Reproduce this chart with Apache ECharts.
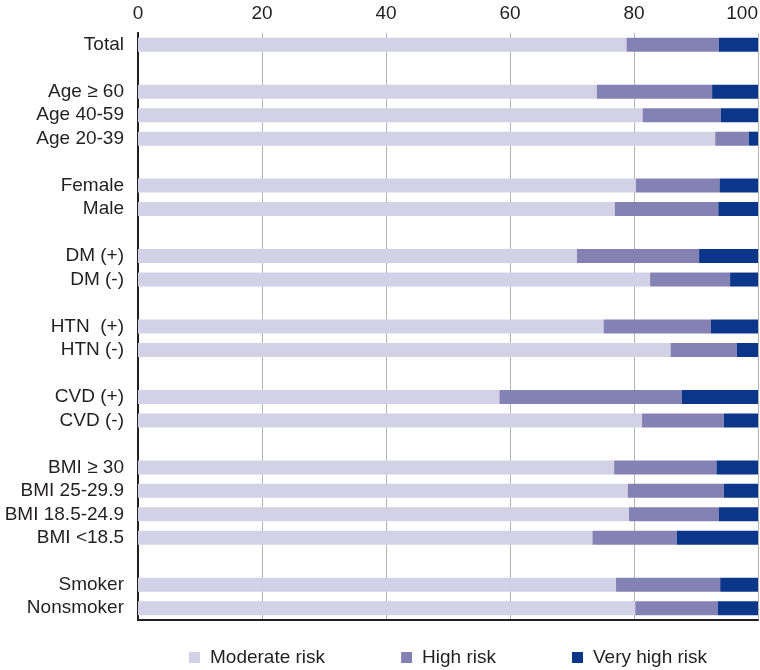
<!DOCTYPE html>
<html>
<head>
<meta charset="utf-8" />
<script src="https://cdn.jsdelivr.net/npm/echarts@6/dist/echarts.min.js"></script>
<style>
  html, body { margin: 0; padding: 0; background: #fff; }
  #main { width: 760px; height: 670px; }
</style>
</head>
<body>
<div id="main"></div>
<script>
// blank entries keep the gaps between groups
const categories = [
  "Total", "",
  "Age ≥ 60", "Age 40-59", "Age 20-39", " ",
  "Female", "Male", "  ",
  "DM (+)", "DM (-)", "   ",
  "HTN  (+)", "HTN (-)", "    ",
  "CVD (+)", "CVD (-)", "     ",
  "BMI ≥ 30", "BMI 25-29.9", "BMI 18.5-24.9", "BMI <18.5", "      ",
  "Smoker", "Nonsmoker"
];
const moderateRisk = [
  78.8, null,
  74.0, 81.4, 93.1, null,
  80.3, 76.9, null,
  70.8, 82.6, null,
  75.1, 85.9, null,
  58.3, 81.3, null,
  76.8, 79.0, 79.2, 73.3, null,
  77.1, 80.2
];
const highRisk = [
  14.9, null,
  18.6, 12.6, 5.4, null,
  13.5, 16.7, null,
  19.7, 12.9, null,
  17.3, 10.7, null,
  29.4, 13.2, null,
  16.5, 15.5, 14.5, 13.6, null,
  16.8, 13.3
];
const veryHighRisk = [
  6.3, null,
  7.4, 6.0, 1.5, null,
  6.2, 6.4, null,
  9.5, 4.5, null,
  7.6, 3.4, null,
  12.3, 5.5, null,
  6.7, 5.5, 6.3, 13.1, null,
  6.1, 6.5
];
const xTicks = [0, 20, 40, 60, 80, 100];

const font = "Liberation Sans";
const fontSize = 19;
const textColor = "#231f20";

const chart = echarts.init(document.getElementById("main"));

const barStyle = (name, data, color) => ({
  name: name,
  type: "bar",
  stack: "risk",
  barWidth: 14,
  xAxisIndex: 0,
  yAxisIndex: 0,
  data: data,
  itemStyle: { color: color },
  emphasis: { disabled: true },
});

chart.setOption({
  animation: false,
  grid: { left: 138, right: 2, top: 33, bottom: 50, outerBoundsMode: "none" },
  legend: {
    left: 184,
    top: 643,
    itemWidth: 11,
    itemHeight: 11,
    itemGap: 76,
    icon: "rect",
    textStyle: {
      fontFamily: font,
      fontSize: fontSize,
      color: textColor,
      padding: [0, 0, 0, 5],
    },
    data: ["Moderate risk", "High risk", "Very high risk"],
  },
  xAxis: [
    {
      type: "value",
      position: "top",
      min: xTicks[0],
      max: xTicks[xTicks.length - 1],
      interval: 20,
      axisLine: { show: false },
      axisTick: { show: false },
      splitLine: { show: true, lineStyle: { color: "#b4b4b4", width: 1 } },
      axisLabel: {
        fontFamily: font,
        fontSize: fontSize,
        color: textColor,
        margin: 10,
        alignMaxLabel: "right",
      },
    },
    {
      type: "value",
      position: "bottom",
      min: 0,
      max: 100,
      axisLine: { show: true, lineStyle: { color: "#231f20", width: 2 } },
      axisTick: { show: false },
      axisLabel: { show: false },
      splitLine: { show: false },
    },
  ],
  yAxis: [
    {
      type: "category",
      inverse: true,
      data: categories,
      axisLine: { show: true, lineStyle: { color: "#231f20", width: 2 } },
      axisTick: { show: false },
      axisLabel: {
        interval: 0,
        fontFamily: font,
        fontSize: fontSize,
        color: textColor,
        margin: 14,
      },
    },
    {
      type: "category",
      inverse: true,
      position: "right",
      data: categories,
      axisLine: { show: true, lineStyle: { color: "#231f20", width: 2 } },
      axisTick: { show: false },
      axisLabel: { show: false },
    },
  ],
  series: [
    barStyle("Moderate risk", moderateRisk, "#d2d1e6"),
    barStyle("High risk", highRisk, "#8481b5"),
    barStyle("Very high risk", veryHighRisk, "#0c3689"),
  ],
});
</script>
</body>
</html>
